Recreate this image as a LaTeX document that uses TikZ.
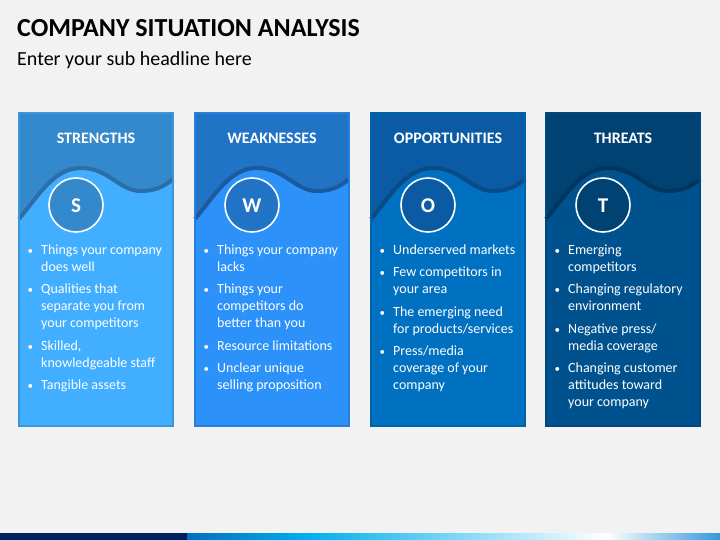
\documentclass[tikz,border=0pt]{standalone}
\usepackage{fontspec}
\setmainfont{Carlito}
\usetikzlibrary{calc}
\definecolor{bg}{HTML}{F2F2F2}
\definecolor{hA}{HTML}{3389CB}\definecolor{bA}{HTML}{42AEFF}\definecolor{wA}{HTML}{2B6EA8}\definecolor{eA}{HTML}{3A97DA}
\definecolor{hB}{HTML}{2173C6}\definecolor{bB}{HTML}{2C91F9}\definecolor{wB}{HTML}{1B5A9C}\definecolor{eB}{HTML}{2580DC}
\definecolor{hC}{HTML}{0A5BA4}\definecolor{bC}{HTML}{0070C0}\definecolor{wC}{HTML}{0A4A85}\definecolor{eC}{HTML}{0062AA}
\definecolor{hD}{HTML}{004373}\definecolor{bD}{HTML}{00528E}\definecolor{wD}{HTML}{003560}\definecolor{eD}{HTML}{00477C}
\definecolor{navy}{HTML}{001F5F}
\definecolor{barA}{HTML}{0070C0}\definecolor{barB}{HTML}{00B0F0}\definecolor{barD}{HTML}{3399DD}
\tikzset{
  titletext/.style={anchor=base west,inner sep=0,font=\fontsize{26}{30}\selectfont\bfseries,text=black},
  subtext/.style={anchor=base west,inner sep=0,font=\fontsize{20}{24}\selectfont,text=black},
  headtext/.style={anchor=base,inner sep=0,font=\fontsize{16}{19}\selectfont\bfseries,text=white},
  lettertext/.style={anchor=base,inner sep=0,font=\fontsize{21}{25}\selectfont\bfseries,text=white},
  listtext/.style={anchor=north west,inner sep=0,font=\fontsize{14}{17}\selectfont,text=white,align=left},
  ring/.style={circle,draw=white,line width=1.6pt,minimum size=54pt,inner sep=0},
}
\newcommand\wavepath{(0,106) .. controls (20,82) and (35,55) .. (62,55) .. controls (90,55) and (100,78) .. (122,78) .. controls (138,78) and (147,72) .. (154,66)}
% #1 x0, #2 header, #3 body, #4 wave, #5 edge, #6 name, #7 title, #8 letter, #9 list
\newcommand\swotpanel[9]{%
  \begin{scope}[shift={(#1,113)}]
    \fill[#3] (0,0) rectangle (154,313);
    \fill[#2] (0,0) -- (154,0) -- (154,66) .. controls (147,72) and (138,78) .. (122,78) .. controls (100,78) and (90,55) .. (62,55) .. controls (35,55) and (20,82) .. (0,106) -- cycle;
    \draw[#4,line width=4pt] \wavepath;
    \draw[#5,line width=1.2pt] (0,0) rectangle (154,313);
    \node[headtext] (#6-head) at (77,30.5) {#7};
    \node[ring,fill=#2] (#6-ring) at (57,92) {};
    \node[lettertext] (#6-letter) at (57,99.5) {#8};
    \node[listtext] (#6-list) at (8,129) {\begin{tabular}{@{}l@{}l@{}}#9\end{tabular}};
  \end{scope}}
\newcommand\bu{\makebox[14pt][l]{\hspace{0.5pt}\fontsize{11}{11}\selectfont\textbullet}}
\begin{document}
\begin{tikzpicture}[x=1pt,y=-1pt]
\useasboundingbox (0,0) rectangle (720,540);
\fill[bg] (0,0) rectangle (720,540);
\node[titletext] (title) at (17,37) {COMPANY SITUATION ANALYSIS};
\node[subtext] (sub) at (17,66) {Enter your sub headline here};
\swotpanel{19}{hA}{bA}{wA}{eA}{s}{STRENGTHS}{S}{%
\bu & Things your company\\ & does well\\[5.5pt]
\bu & Qualities that\\ & separate you from\\ & your competitors\\[5.5pt]
\bu & Skilled,\\ & knowledgeable staff\\[5.5pt]
\bu & Tangible assets}
\swotpanel{195}{hB}{bB}{wB}{eB}{w}{WEAKNESSES}{W}{%
\bu & Things your company\\ & lacks\\[5.5pt]
\bu & Things your\\ & competitors do\\ & better than you\\[5.5pt]
\bu & Resource limitations\\[5.5pt]
\bu & Unclear unique\\ & selling proposition}
\swotpanel{371}{hC}{bC}{wC}{eC}{o}{OPPORTUNITIES}{O}{%
\bu & Underserved markets\\[5.5pt]
\bu & Few competitors in\\ & your area\\[5.5pt]
\bu & The emerging need\\ & for products/services\\[5.5pt]
\bu & Press/media\\ & coverage of your\\ & company}
\swotpanel{546}{hD}{bD}{wD}{eD}{t}{THREATS}{T}{%
\bu & Emerging\\ & competitors\\[5.5pt]
\bu & Changing regulatory\\ & environment\\[5.5pt]
\bu & Negative press/\\ & media coverage\\[5.5pt]
\bu & Changing customer\\ & attitudes toward\\ & your company}
% bottom bar
\fill[navy] (0,533) rectangle (187,540);
\shade[left color=barA,right color=barB] (187,533) rectangle (310,540);
\shade[left color=barB,right color=white] (309.5,533) rectangle (606,540);
\shade[left color=white,right color=barD] (605.5,533) rectangle (720,540);
\end{tikzpicture}
\end{document}
